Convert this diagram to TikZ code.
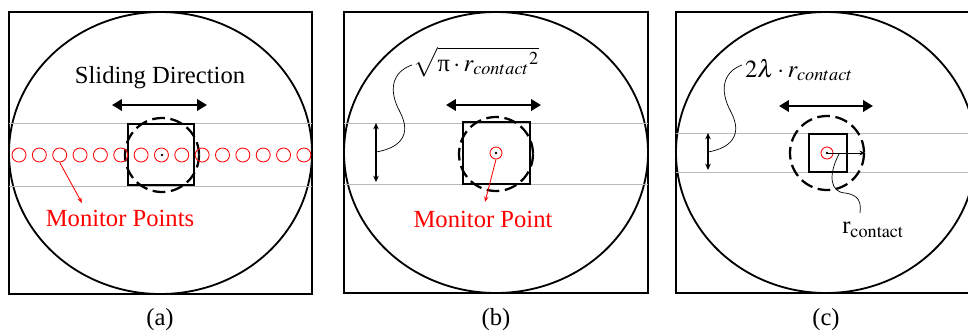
\documentclass[tikz,border=0pt]{standalone}
\usepackage{mathptmx}
\usepackage{fontspec}
\setmainfont{Liberation Serif}
\newfontfamily\timesfont{Liberation Serif}
\usetikzlibrary{arrows.meta}

\begin{document}
\begin{tikzpicture}[x=0.025cm, y=-0.025cm, >=Stealth,
    frame/.style={line width=1.6pt},
    ring/.style={line width=1.3pt},
    track/.style={gray!55, line width=0.5pt},
    pad/.style={line width=2pt},
    zone/.style={line width=1.6pt, dash pattern=on 9pt off 4pt},
    slide/.style={{Triangle[length=7pt,width=8pt]}-{Triangle[length=7pt,width=8pt]}, line width=2pt},
    bandarr/.style={{Stealth[length=4.5pt,width=4pt]}-{Stealth[length=4.5pt,width=4pt]}, line width=0.8pt},
    mon/.style={circle, draw=red, line width=0.6pt, minimum size=0.35cm, inner sep=0pt},
    pointer/.style={->, red, line width=0.6pt, >={Stealth[length=4pt,width=3pt]}},
    leader/.style={line width=0.5pt},
    lbl/.style={font=\timesfont\fontsize{17.5}{21}\selectfont, inner sep=0pt},
    sublbl/.style={font=\timesfont\fontsize{17.5}{21}\selectfont, inner sep=0pt}]

  \clip (0,0) rectangle (968,332);

  %% ---------- (a) several monitor points ----------
  \draw[frame] (9,12) rectangle (312,294);
  \draw[ring] (160.5,153) ellipse [x radius=151.5, y radius=141];
  \draw[track] (9,123) -- (312,123);
  \draw[track] (9,186) -- (312,186);
  \draw[pad] (128,124) rectangle (194,185);
  \draw[zone] (162,155) circle (37);
  \foreach \i in {0,...,14}
    \node[mon] (ma\i) at ({19+20.35*\i},155) {};
  \fill (162,155) circle (1.4);
  \coordinate (la) at (112,105);
  \coordinate (ra) at (207,105);
  \draw[slide] (la) -- (ra);
  \node[lbl] (slidetxt) at (160,78) {Sliding Direction};
  \node[lbl, red] (mpa) at (120,218) {Monitor Points};
  \coordinate (tipa) at (82,203);
  \draw[pointer] (ma2.south) -- (tipa);
  \node[sublbl] (capa) at (160,320) {(a)};

  %% ---------- (b) one monitor point, equal area ----------
  \draw[frame] (344,12) rectangle (648,293);
  \draw[ring] (496,152.5) ellipse [x radius=152, y radius=140.5];
  \draw[track] (344,123) -- (648,123);
  \draw[track] (344,184) -- (648,184);
  \draw[pad] (463,122) rectangle (530,184);
  \draw[zone] (496,154) circle (37);
  \node[mon, minimum size=0.3cm] (mb) at (496,153) {};
  \fill (496,153) circle (1.4);
  \coordinate (lb) at (446,105);
  \coordinate (rb) at (541,105);
  \draw[slide] (lb) -- (rb);
  \coordinate (topb) at (376,123);
  \coordinate (botb) at (376,182);
  \draw[bandarr] (topb) -- (botb);
  \coordinate (midb) at (376,152);
  \node[lbl] (areab) at (476,62)
    {$\sqrt{\mbox{π}\cdot r_{contact}{}^{2}}$};
  \coordinate (endb) at (412,65);
  \draw[leader] (midb) .. controls (400,148) and (412,135) .. (400,112)
    .. controls (388,90) and (392,72) .. (endb);
  \node[lbl, red] (mpb) at (483,219) {Monitor Point};
  \coordinate (tipb) at (485,202);
  \draw[pointer] (mb.south) -- (tipb);
  \node[sublbl] (capb) at (496,320) {(b)};

  %% ---------- (c) one monitor point, contact radius ----------
  \draw[frame] (676,12) rectangle (980,293);
  \draw[ring] (826,152.5) ellipse [x radius=150, y radius=140.5];
  \draw[track] (676,133) -- (980,133);
  \draw[track] (676,172) -- (980,172);
  \draw[pad] (809,134) rectangle (847,172);
  \draw[zone] (827,153) circle (37);
  \node[mon, minimum size=0.3cm] (mc) at (827,153) {};
  \fill (827,153) circle (1.4);
  \coordinate (rimc) at (865,153);
  \draw[->, line width=0.6pt, >={Stealth[length=4pt,width=3.5pt]}] (mc.center) -- (rimc);
  \coordinate (lc) at (779,106);
  \coordinate (rc) at (873,106);
  \draw[slide] (lc) -- (rc);
  \coordinate (topc) at (708,133);
  \coordinate (botc) at (708,170);
  \draw[bandarr] (topc) -- (botc);
  \coordinate (midc) at (708,152);
  \node[lbl] (bandc) at (799,70) {$2\lambda\cdot r_{contact}$};
  \coordinate (endc) at (742,65);
  \draw[leader] (midc) .. controls (731,148) and (743,135) .. (731,112)
    .. controls (719,90) and (723,72) .. (endc);
  \node[lbl] (radc) at (873,230) {r$_{\mathrm{contact}}$};
  \coordinate (fromc) at (839,154);
  \draw[leader] (fromc) .. controls (828,175) and (830,192) .. (845,193)
    .. controls (860,195) and (861,203) .. (860,213);
  \node[sublbl] (capc) at (826,320) {(c)};
\end{tikzpicture}
\end{document}
